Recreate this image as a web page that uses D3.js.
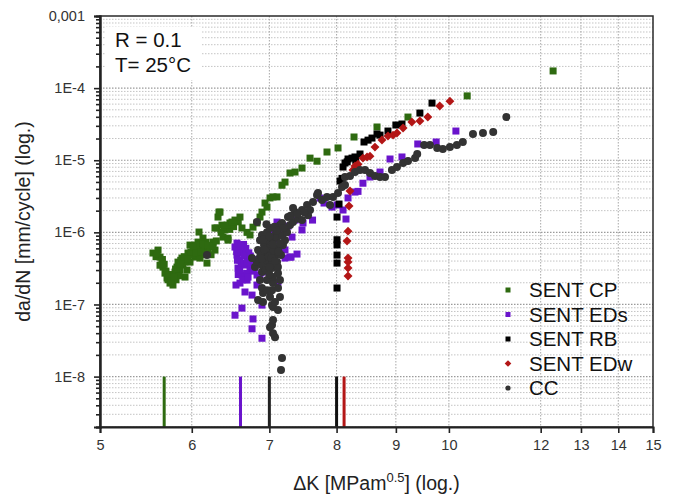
<!DOCTYPE html>
<html><head><meta charset="utf-8">
<script src="https://cdn.jsdelivr.net/npm/d3@7"></script>
<style>body{margin:0;background:#fff;} svg{display:block;font-family:"Liberation Sans",Arial,sans-serif;}</style>
</head><body><svg id="c" width="673" height="498"></svg>
<script>
// ---- data ----
const xTicks = [5, 6, 7, 8, 9, 10, 12, 13, 14, 15];
const yTicks = [1e-8, 1e-7, 1e-6, 1e-5, 1e-4, 1e-3];
const yTickLabels = ["1E-8", "1E-7", "1E-6", "1E-5", "1E-4", "0,001"];
const seriesNames = ["SENT CP", "SENT EDs", "SENT RB", "SENT EDw", "CC"];
const seriesColors = ["#2e6a10", "#6a14cc", "#000000", "#b31616", "#333333"];
const thresholdK = [5.68, 6.61, 7.00, 8.00, 8.12];
const thresholdColors = ["#2e6a10", "#6a14cc", "#222222", "#111111", "#b31616"];
const thresholdRate = 1e-8;

const cpData = [[5.555,5.17e-7],[5.611,5.68e-7],[5.633,4.54e-7],[5.655,3.87e-7],[5.666,3.30e-7],[5.689,2.72e-7],[5.712,2.32e-7],[5.746,1.98e-7],[5.780,1.86e-7],[5.769,2.56e-7],[5.803,2.81e-7],[5.826,3.30e-7],[5.838,3.87e-7],[5.884,4.40e-7],[5.896,3.52e-7],[5.920,2.40e-7],[5.943,3.0e-7],[5.955,5.17e-7],[5.979,3.87e-7],[5.979,6.66e-7],[6.015,5.68e-7],[6.039,4.54e-7],[6.075,7.33e-7],[6.087,1.01e-6],[6.123,6.25e-7],[6.135,8.32e-7],[6.160,5.68e-7],[6.184,3.75e-7],[6.196,5.17e-7],[6.221,6.25e-7],[6.258,7.33e-7],[6.283,5.68e-7],[6.308,1.15e-6],[6.321,1.63e-6],[6.333,1.91e-6],[6.371,1.26e-6],[6.409,1.08e-6],[6.448,8.32e-7],[6.473,1.35e-6],
[5.589,4.6e-7],[5.633,3.5e-7],[5.70,2.9e-7],[5.723,2.2e-7],[5.757,2.3e-7],[5.815,2.2e-7],[5.861,3.0e-7],[5.85,2.5e-7],[5.92,3.9e-7],[6.003,4.8e-7],[6.063,5.7e-7],[6.099,4.4e-7],[6.234,4.9e-7],[6.172,7.3e-7],[6.051,6.66e-7],[6.147,4.9e-7],
[5.60,5.0e-7],[5.66,4.2e-7],[5.68,3.6e-7],[5.73,2.6e-7],[5.76,2.1e-7],[5.79,2.4e-7],[5.81,3.1e-7],[5.86,3.6e-7],[5.87,4.1e-7],[5.91,4.6e-7],[5.95,4.3e-7],[5.99,5.3e-7],[6.02,6.2e-7],[6.05,5.2e-7],[6.11,5.4e-7],[6.14,6.8e-7],[6.20,6.6e-7],[6.26,6.4e-7],[6.30,7.6e-7],[6.36,1.0e-6],[6.40,1.2e-6],[6.47,1.1e-6],[6.52,1.2e-6],[6.58,1.4e-6],
[6.283,1.15e-6],[6.346,1.91e-6],[6.384,8.6e-7],[6.448,7.8e-7],[6.435,1.26e-6],[6.499,1.39e-6],[6.538,1.48e-6],[6.603,1.63e-6],[6.629,1.15e-6],[6.696,1.0e-6],[6.736,9.2e-7],[6.776,1.18e-6],[6.830,1.35e-6],[6.871,1.63e-6],[6.898,1.91e-6],[6.940,2.55e-6],[6.967,2.24e-6],[7.009,3.0e-6],[7.051,3.1e-6],[7.107,3.1e-6],[7.178,4.5e-6],[7.221,4.98e-6],[7.293,6.65e-6],[7.366,6.86e-6],[7.469,7.8e-6],[7.589,1.07e-5],[7.695,9.7e-6],[7.849,1.3e-5],[8.023,1.48e-5],[8.282,2.1e-5],[8.669,2.89e-5],[9.219,3.97e-5],[10.37,7.8e-5],[12.30,1.73e-4]];

const edsData = [[6.538,6.25e-7],[6.564,7.1e-7],[6.564,4.84e-7],[6.603,4.13e-7],[6.642,5.17e-7],[6.669,3.52e-7],[6.709,4.4e-7],[6.736,3.0e-7],[6.763,3.87e-7],[6.803,3.2e-7],[6.830,2.56e-7],[6.577,3.2e-7],[6.629,2.56e-7],[6.551,1.86e-7],[6.603,1.98e-7],[6.696,2.18e-7],[6.669,1.49e-7],[6.763,1.35e-7],[6.830,1.86e-7],[6.871,2.32e-7],[6.912,2.81e-7],[6.629,8.9e-8],[6.538,7.1e-8],[6.776,6.3e-8],[6.763,4.6e-8],[6.898,3.4e-8],[6.898,9.8e-8],[7.121,2.04e-7],[7.293,4.54e-7],[7.395,5.0e-7],[7.221,4.4e-7],[7.079,8.66e-7],[7.009,9.8e-7],[7.107,1.39e-6],[7.149,1.08e-6],[7.079,7.8e-7],[7.366,1.48e-6],[7.469,1.08e-6],[7.627,1.48e-6],[7.308,4.54e-7],[7.221,5.7e-7],[7.322,8.6e-7],[7.484,1.35e-6],[7.264,1.22e-6],[7.741,2.99e-6],[7.928,2.24e-6],[7.803,2.55e-6],[8.007,2.4e-6],[8.103,2.04e-6],[8.151,1.53e-6],[8.184,3.0e-6],[8.298,3.62e-6],[8.348,3.7e-6],[8.43,4.8e-6],[8.549,5.85e-6],[8.721,6.86e-6],[8.896,1.04e-5],[9.11,1.11e-5],[9.40,1.68e-5],[9.75,1.79e-5],[10.14,2.54e-5],[6.953,6.6e-7],[6.994,4.9e-7],
[6.59,5.6e-7],[6.68,6.0e-7],[6.72,5.2e-7],[6.62,3.7e-7],[6.75,3.6e-7],[6.69,2.7e-7],[6.58,2.6e-7],[6.78,2.9e-7],[6.65,6.8e-7],[6.85,4.2e-7],
[6.56,5.4e-7],[6.61,6.4e-7],[6.66,4.7e-7],[6.70,3.9e-7],[6.74,4.7e-7],[6.60,3.0e-7],[6.64,2.2e-7],[6.71,2.4e-7],[6.80,3.8e-7],[6.57,4.1e-7]];

const rbData = [[8.007,1.63e-6],[8.007,7.9e-7],[8.007,6.7e-7],[8.007,4.84e-7],[8.007,3.75e-7],[8.007,1.69e-7],[8.039,2.47e-6],[8.055,5.15e-6],[8.087,5.6e-6],[8.103,8.05e-6],[8.135,9.15e-6],[8.17,9.5e-6],[8.184,1.04e-5],[8.249,1.07e-5],[8.298,1.11e-5],[8.31,1.0e-5],[8.381,1.22e-5],[8.448,1.79e-5],[8.516,1.9e-5],[8.583,2.03e-5],[8.669,2.31e-5],[8.721,2.23e-5],[8.860,2.54e-5],[9.00,3.08e-5],[9.11,3.18e-5],[9.44,4.51e-5],[9.67,6.2e-5]];

const edwData = [[8.184,2.48e-7],[8.184,3.2e-7],[8.184,3.87e-7],[8.184,4.4e-7],[8.168,7.6e-7],[8.184,1.04e-6],[8.20,2.32e-6],[8.216,3.74e-6],[8.265,7.3e-6],[8.298,8.3e-6],[8.348,8.8e-6],[8.43,1.07e-5],[8.499,1.11e-5],[8.549,1.14e-5],[8.634,1.52e-5],[8.755,1.91e-5],[8.86,2.17e-5],[8.95,2.23e-5],[9.02,2.38e-5],[9.13,2.8e-5],[9.29,3.38e-5],[9.44,3.5e-5],[9.59,3.97e-5],[9.82,5.64e-5],[10.02,6.6e-5]];

const ccData = [[7.178,1.81e-8],[7.164,1.23e-8],[7.079,3.5e-8],[7.051,4.0e-8],[7.037,5.2e-8],[7.009,4.85e-8],[7.051,6.1e-8],[7.121,8.4e-8],[7.051,9.2e-8],[7.037,9.8e-8],[7.079,1.08e-7],[6.912,1.08e-7],[6.844,1.15e-7],[7.009,1.27e-7],[7.149,1.27e-7],[6.912,1.44e-7],[6.898,1.69e-7],[7.037,1.58e-7],[7.121,1.69e-7],[6.967,1.58e-7],[6.871,2.18e-7],[7.051,1.98e-7],[7.149,2.18e-7],[6.967,2.18e-7],[7.121,2.72e-7],[6.898,2.81e-7],[6.803,3.3e-7],[7.051,2.4e-7],[6.871,4.54e-7],[7.051,4.13e-7],
[6.830,3.87e-7],[6.898,3.5e-7],[6.94,4.84e-7],[6.981,3.87e-7],[7.009,5.7e-7],[7.037,3.2e-7],[7.079,4.84e-7],[7.107,3.87e-7],[7.121,6.0e-7],[7.164,4.84e-7],[7.192,6.66e-7],[7.221,7.8e-7],[6.926,6.66e-7],[6.981,7.8e-7],[7.051,7.8e-7],[6.898,9.2e-7],[6.967,1.0e-6],[7.009,1.15e-6],[7.093,9.8e-7],[7.149,1.26e-6],[7.178,1.35e-6],[7.221,1.08e-6],[7.264,1.63e-6],[7.293,1.26e-6],[7.337,1.39e-6],[7.366,1.91e-6],[7.41,1.55e-6],[7.469,2.04e-6],[7.469,1.48e-6],[7.544,2.4e-6],[7.559,1.72e-6],[7.589,2.04e-6],[7.634,2.63e-6],[7.695,3.29e-6],[7.772,2.8e-6],[7.849,3.1e-6],[7.896,2.4e-6],[6.830,1.39e-6],[6.871,7.8e-7],[6.844,5.7e-7],[6.763,4.4e-7],[6.184,4.84e-7],
[6.95,3.0e-7],[7.0,2.6e-7],[7.02,6.5e-7],[7.06,5.5e-7],[7.1,8.5e-7],[6.92,8.0e-7],[7.0,8.8e-7],[7.13,5.4e-7],[7.18,9.0e-7],[7.25,1.0e-6],[7.3,1.7e-6],[7.4,1.8e-6],[7.5,1.9e-6],[7.07,1.2e-6],[6.96,1.3e-6],[7.04,3.6e-7],[6.88,5.2e-7],[7.12,3.3e-7],
[6.90,4.3e-7],[6.99,4.6e-7],[7.03,4.4e-7],[7.08,4.0e-7],[7.15,7.0e-7],[7.00,3.3e-7],[6.93,5.8e-7],[7.05,6.8e-7],[7.11,1.05e-6],[7.20,1.15e-6],
[7.337,2.17e-6],[7.710,3.5e-6],[7.944,3.09e-6],[8.023,3.5e-6],[8.087,4.25e-6],[8.135,4.53e-6],[8.135,5.85e-6],[8.216,6.04e-6],[8.298,6.86e-6],[8.381,7.3e-6],[8.465,7.3e-6],[8.549,6.65e-6],[8.634,6.04e-6],[8.721,5.85e-6],[8.808,5.85e-6],[8.93,7.3e-6],[9.02,8.05e-6],[9.13,9.15e-6],[9.22,9.75e-6],[9.35,1.07e-5],[9.39,1.22e-5],[9.52,1.63e-5],[9.63,1.63e-5],[9.77,1.48e-5],[9.88,1.43e-5],[10.02,1.52e-5],[10.16,1.63e-5],[10.28,1.79e-5],[10.49,2.31e-5],[10.70,2.38e-5],[10.92,2.46e-5],[11.21,3.97e-5]];

const annotLines = ["R = 0.1", "T= 25°C"];

// ---- layout ----
const L = 100, R = 653, T = 16, B = 427;
const svg = d3.select("#c");
const x = d3.scaleLog().domain([5, 15]).range([L, R]);
const y = d3.scaleLog().domain([2e-9, 1e-3]).range([B, T]);

const allY = y.ticks();
const minorY = allY.filter(v => !yTicks.some(t => Math.abs(t - v) / t < 1e-6));

// grid
const grid = svg.append("g");
grid.selectAll("line.mn").data(minorY).join("line")
  .attr("x1", L).attr("x2", R).attr("y1", d => y(d)).attr("y2", d => y(d))
  .attr("stroke", "#c4c4c4").attr("stroke-width", 1).attr("stroke-dasharray", "1.5,1.5");
grid.selectAll("line.mj").data(yTicks.slice(0, 5)).join("line")
  .attr("x1", L).attr("x2", R).attr("y1", d => y(d)).attr("y2", d => y(d))
  .attr("stroke", "#9a9a9a").attr("stroke-width", 1.2).attr("stroke-dasharray", "1.5,1.5");
grid.selectAll("line.vx").data(xTicks.slice(1, -1)).join("line")
  .attr("x1", d => x(d)).attr("x2", d => x(d)).attr("y1", T).attr("y2", B)
  .attr("stroke", "#a8a8a8").attr("stroke-width", 1).attr("stroke-dasharray", "1.5,1.5");

// annotation background
svg.append("rect").attr("x", 105).attr("y", 27).attr("width", 97).attr("height", 53).attr("fill", "#fff");

// threshold lines
svg.selectAll("line.th").data(thresholdK).join("line")
  .attr("x1", d => x(d)).attr("x2", d => x(d))
  .attr("y1", y(thresholdRate)).attr("y2", B)
  .attr("stroke", (d, i) => thresholdColors[i]).attr("stroke-width", 3);

// marks
const pts = svg.append("g");
const sq = 7;
function squares(data, color) {
  pts.append("g").selectAll("rect").data(data).join("rect")
    .attr("x", d => x(d[0]) - sq / 2).attr("y", d => y(d[1]) - sq / 2)
    .attr("width", sq).attr("height", sq).attr("fill", color);
}
squares(cpData, seriesColors[0]);
squares(edsData, seriesColors[1]);
squares(rbData, seriesColors[2]);
const diamond = d3.symbol().type(d3.symbolSquare).size(40);
pts.append("g").selectAll("path").data(edwData).join("path")
  .attr("d", diamond).attr("transform", d => `translate(${x(d[0])},${y(d[1])}) rotate(45)`)
  .attr("fill", seriesColors[3]);
pts.append("g").selectAll("circle").data(ccData).join("circle")
  .attr("cx", d => x(d[0])).attr("cy", d => y(d[1])).attr("r", 4)
  .attr("fill", seriesColors[4]);

// frame
svg.append("rect").attr("x", L).attr("y", T).attr("width", R - L).attr("height", B - T)
  .attr("fill", "none").attr("stroke", "#2a2a2a").attr("stroke-width", 1.5);

// axes
const ax = svg.append("g").attr("transform", `translate(0,${B})`)
  .call(d3.axisBottom(x).tickValues(xTicks).tickFormat(d3.format("d")).tickSize(6).tickPadding(7));
const ayMinor = svg.append("g").attr("transform", `translate(${L},0)`)
  .call(d3.axisLeft(y).tickValues(minorY).tickFormat("").tickSize(4));
const ay = svg.append("g").attr("transform", `translate(${L},0)`)
  .call(d3.axisLeft(y).tickValues(yTicks).tickFormat((d, i) => yTickLabels[i]).tickSize(6).tickPadding(9));
[ax, ay, ayMinor].forEach(g => {
  g.select(".domain").attr("stroke", "#222").attr("stroke-width", 2);
  g.selectAll(".tick line").attr("stroke", "#222").attr("stroke-width", 1.6);
  g.selectAll(".tick text").attr("fill", "#333").attr("font-size", 14.5)
    .attr("font-family", '"Liberation Sans",Arial,sans-serif');
});

// axis titles
svg.append("text").attr("transform", `translate(30,${(T + B) / 2}) rotate(-90)`)
  .attr("text-anchor", "middle").attr("font-size", 19.5).attr("fill", "#222")
  .text("da/dN [mm/cycle] (log.)");
const xt = svg.append("text").attr("x", (L + R) / 2).attr("y", 490)
  .attr("text-anchor", "middle").attr("font-size", 19.5).attr("fill", "#222");
xt.append("tspan").text("ΔK [MPam");
xt.append("tspan").attr("font-size", 13).attr("dy", -8).text("0.5");
xt.append("tspan").attr("dy", 8).text("] (log.)");

// annotation
svg.selectAll("text.an").data(annotLines).join("text")
  .attr("x", 115).attr("y", (d, i) => 47 + i * 25)
  .attr("font-size", 20.5).attr("fill", "#111").text(d => d);

// legend
const lg = svg.append("g");
const rowY = i => 290 + i * 24.5;
seriesNames.forEach((name, i) => {
  const cy = rowY(i);
  if (i < 3) {
    lg.append("rect").attr("x", 505.5).attr("y", cy - 2.5).attr("width", 5).attr("height", 5).attr("fill", seriesColors[i]);
  } else if (i === 3) {
    lg.append("path").attr("d", d3.symbol().type(d3.symbolSquare).size(22)).attr("transform", `translate(508,${cy}) rotate(45)`).attr("fill", seriesColors[i]);
  } else {
    lg.append("circle").attr("cx", 508).attr("cy", cy).attr("r", 2.6).attr("fill", seriesColors[i]);
  }
  lg.append("text").attr("x", 529).attr("y", cy + 7).attr("font-size", 20.5).attr("fill", "#111").text(name);
});
</script></body></html>
